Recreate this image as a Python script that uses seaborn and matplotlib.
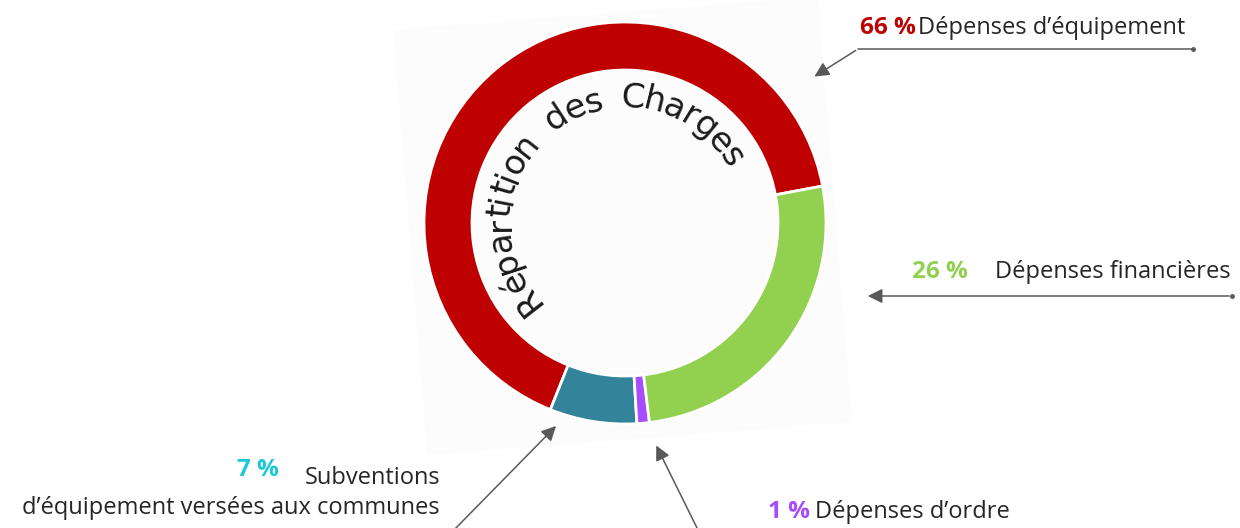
import numpy as np
import matplotlib
matplotlib.use("Agg")
import matplotlib.pyplot as plt
import seaborn as sns
from matplotlib.patches import Polygon

# data
categories = ["Dépenses d'équipement", "Subventions d'équipement", "Dépenses d'ordre", "Dépenses financières"]
shares = [66, 7, 1, 26]
wedge_colors = ["#BE0000", "#33849A", "#A64DFF", "#92D050"]
title_text = "Répartition  des  Charges"

sns.set_theme(style="white")
plt.rcParams["font.family"] = ["Open Sans", "DejaVu Sans"]

W, H = 1240, 528
fig = plt.figure(figsize=(W / 100, H / 100), dpi=100)
ax = fig.add_axes([0, 0, 1, 1])
ax.set_xlim(0, W)
ax.set_ylim(0, H)
ax.axis("off")


def Y(y):
    # image row -> plot coordinate
    return H - y


# faint tilted panel behind the ring
panel = [(393, 30), (818, -3), (852, 422), (427, 455)]
ax.add_patch(Polygon([(x, Y(y)) for x, y in panel], closed=True,
                     facecolor="#fcfcfc", edgecolor="none", zorder=0))

cx, cy, R = 625, Y(223), 201
ax.pie(shares, colors=wedge_colors, startangle=10.6, counterclock=True,
       center=(cx, cy), radius=R,
       wedgeprops=dict(width=48, edgecolor="white", linewidth=2))
ax.set_xlim(0, W)
ax.set_ylim(0, H)
ax.set_aspect("equal")

# curved title along the inner side of the ring
fig.canvas.draw()
renderer = fig.canvas.get_renderer()
fs = 24.5
widths = []
for ch in title_text:
    t = ax.text(0, 0, ch if ch != " " else "n", fontsize=fs, family="DejaVu Sans")
    w = t.get_window_extent(renderer).width
    if ch == " ":
        w *= 0.45
    widths.append(w)
    t.remove()
pos = np.cumsum([0] + widths[:-1]) + np.array(widths) / 2
pos = (pos - pos[0]) / (pos[-1] - pos[0])
a0, a1, rt = 218, 32, 125
for ch, p in zip(title_text, pos):
    if ch == " ":
        continue
    th = a0 + (a1 - a0) * p
    r = np.deg2rad(th)
    ax.text(cx + rt * np.cos(r), cy + rt * np.sin(r), ch, fontsize=fs,
            family="DejaVu Sans", color="#1a1a1a", rotation=th - 90,
            rotation_mode="anchor", ha="center", va="center")

gray = "#595959"
arrow = dict(arrowstyle="-|>", color=gray, lw=1.1, mutation_scale=22)
lab = dict(fontsize=17, color="#262626", va="center")
pct = dict(fontsize=17.5, fontweight="bold", va="center")

# 66 %
ax.text(860, Y(28), "66 %", color="#BE0000", **pct)
ax.text(918, Y(28), "Dépenses d’équipement", **lab)
ax.plot([858, 1193], [Y(49), Y(49)], color=gray, lw=1.1)
ax.plot([1193], [Y(49)], "o", color=gray, ms=2.5)
ax.annotate("", xy=(812, Y(78)), xytext=(858, Y(49)), arrowprops=arrow)

# 26 %
ax.text(912, Y(272), "26 %", color="#92D050", **pct)
ax.text(995, Y(272), "Dépenses financières", **lab)
ax.plot([1232], [Y(296)], "o", color=gray, ms=2.5)
ax.annotate("", xy=(865, Y(296)), xytext=(1232, Y(296)), arrowprops=arrow)

# 7 %
ax.text(237, Y(470), "7 %", color="#1CC8D6", **pct)
ax.text(440, Y(478), "Subventions", ha="right", **lab)
ax.text(440, Y(508), "d’équipement versées aux communes", ha="right", **lab)
ax.annotate("", xy=(558, Y(424)), xytext=(452, Y(532)), arrowprops=arrow)

# 1 %
ax.text(768, Y(512), "1 %", color="#A64DFF", **pct)
ax.text(815, Y(512), "Dépenses d’ordre", **lab)
ax.annotate("", xy=(655, Y(443)), xytext=(699, Y(532)), arrowprops=arrow)

fig.savefig("out.png", dpi=100)
